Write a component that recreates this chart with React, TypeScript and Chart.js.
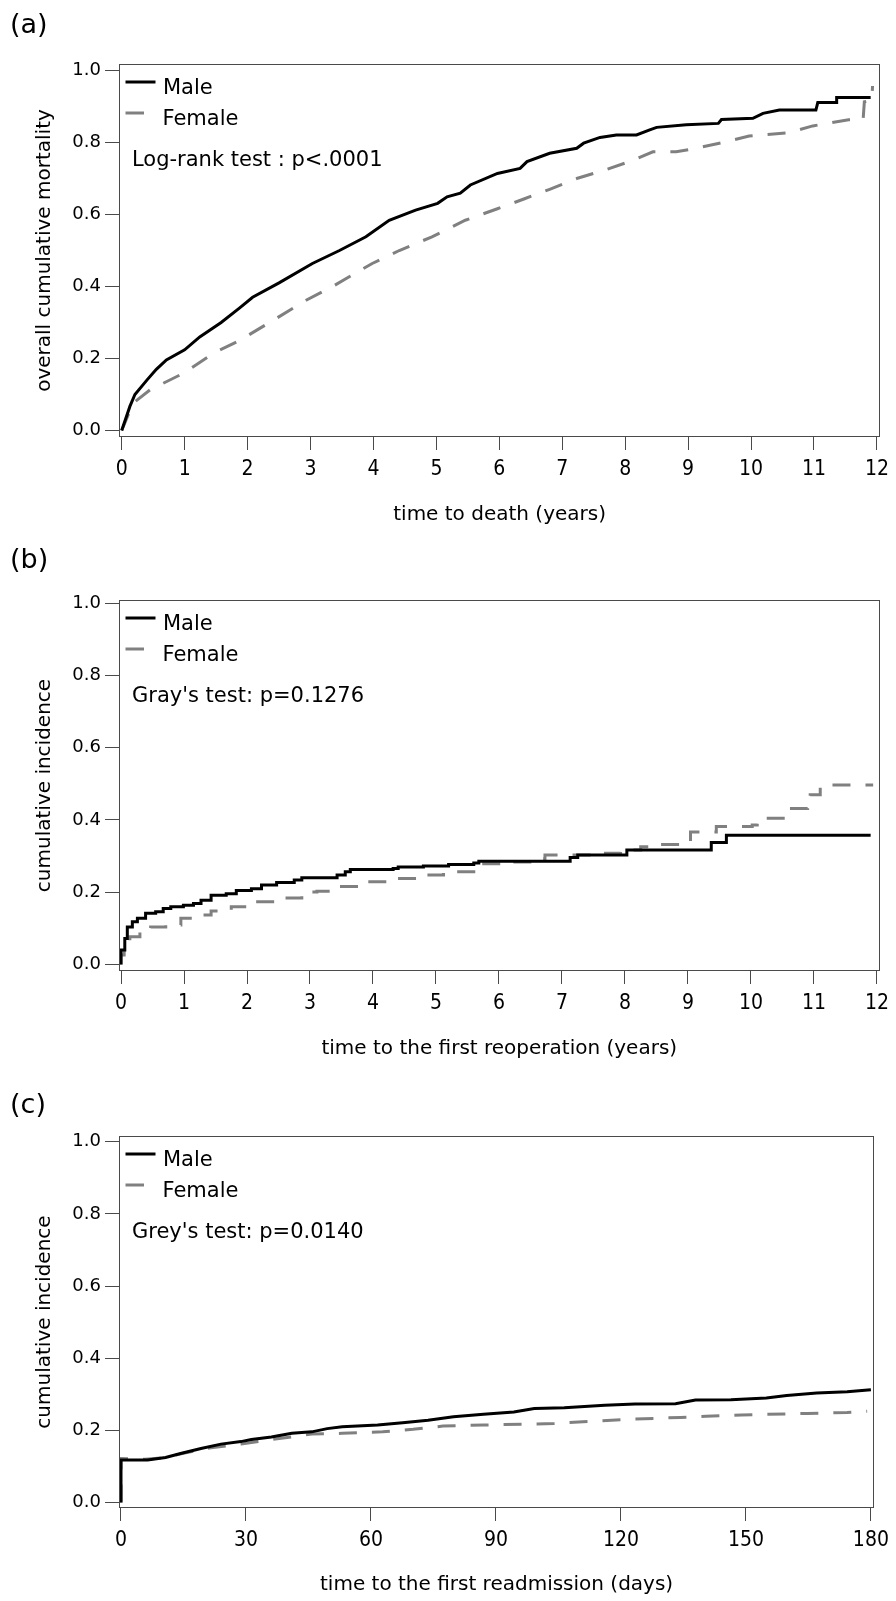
import React, { useEffect, useRef } from 'react';
import { Chart, registerables } from 'chart.js';

Chart.register(...registerables);

// ---------- shared ----------
const seriesLabels = ['Male', 'Female'];
const yTickValues = [0, 0.2, 0.4, 0.6, 0.8, 1.0];

// ---------- panel (a): overall cumulative mortality ----------
const aPanelLabel = '(a)';
const aXTitle = 'time to death (years)';
const aYTitle = 'overall cumulative mortality';
const aNote = 'Log-rank test : p<.0001';
const aXTicks = [0, 1, 2, 3, 4, 5, 6, 7, 8, 9, 10, 11, 12];
const aMaleTime = [0, 0.13, 0.21, 0.4, 0.55, 0.71, 1.0, 1.24, 1.58, 1.87, 2.08, 2.5, 3.03, 3.46, 3.88, 4.25, 4.67, 5.02, 5.17, 5.38, 5.54, 5.97, 6.33, 6.44, 6.8, 7.23, 7.34, 7.6, 7.86, 8.18, 8.39, 8.5, 8.97, 9.48, 9.53, 10.03, 10.19, 10.45, 11.03, 11.06, 11.35, 11.36, 11.9];
const aMaleValue = [0, 0.067, 0.1, 0.14, 0.17, 0.196, 0.224, 0.26, 0.3, 0.34, 0.37, 0.41, 0.464, 0.5, 0.538, 0.584, 0.612, 0.631, 0.649, 0.659, 0.682, 0.714, 0.728, 0.747, 0.77, 0.784, 0.798, 0.814, 0.821, 0.821, 0.835, 0.842, 0.849, 0.853, 0.864, 0.867, 0.881, 0.89, 0.89, 0.911, 0.911, 0.925, 0.925];
const aFemaleTime = [0, 0.18, 0.45, 0.98, 1.45, 1.87, 2.35, 2.93, 3.35, 3.98, 4.41, 4.93, 5.46, 5.97, 6.39, 6.8, 7.23, 7.65, 8.07, 8.44, 8.81, 9.13, 9.55, 9.97, 10.6, 10.98, 11.55, 11.78, 11.8, 11.92, 11.93];
const aFemaleValue = [0, 0.076, 0.113, 0.159, 0.214, 0.25, 0.3, 0.362, 0.4, 0.464, 0.5, 0.538, 0.584, 0.616, 0.643, 0.67, 0.7, 0.722, 0.747, 0.774, 0.774, 0.784, 0.8, 0.818, 0.827, 0.846, 0.863, 0.863, 0.913, 0.918, 0.957];

// ---------- panel (b): cumulative incidence of reoperation ----------
const bPanelLabel = '(b)';
const bXTitle = 'time to the first reoperation (years)';
const bYTitle = 'cumulative incidence';
const bNote = "Gray's test: p=0.1276";
const bXTicks = [0, 1, 2, 3, 4, 5, 6, 7, 8, 9, 10, 11, 12];
const bMaleTime = [0, 0, 0.06, 0.1, 0.18, 0.26, 0.39, 0.55, 0.67, 0.79, 0.99, 1.15, 1.27, 1.43, 1.67, 1.83, 2.07, 2.23, 2.47, 2.75, 2.87, 3.43, 3.56, 3.64, 4.32, 4.4, 4.8, 5.2, 5.6, 5.68, 7.13, 7.25, 8.03, 9.37, 9.61, 11.9];
const bMaleValue = [0, 0.04, 0.072, 0.104, 0.118, 0.128, 0.142, 0.146, 0.155, 0.16, 0.164, 0.169, 0.178, 0.192, 0.196, 0.205, 0.21, 0.22, 0.227, 0.234, 0.24, 0.248, 0.257, 0.263, 0.266, 0.27, 0.273, 0.277, 0.281, 0.286, 0.296, 0.303, 0.317, 0.338, 0.358, 0.358];
const bFemaleTime = [0, 0, 0.05, 0.14, 0.3, 0.47, 0.71, 0.95, 1.19, 1.43, 1.75, 2.07, 2.47, 2.87, 3.11, 3.43, 3.92, 4.32, 4.8, 5.12, 5.6, 5.68, 6.08, 6.49, 6.73, 7.69, 7.93, 8.25, 8.57, 9.04, 9.45, 10.02, 10.1, 10.54, 10.58, 10.9, 10.94, 11.1, 11.94];
const bFemaleValue = [0, 0.026, 0.058, 0.077, 0.09, 0.104, 0.109, 0.128, 0.137, 0.148, 0.16, 0.174, 0.184, 0.201, 0.203, 0.216, 0.229, 0.238, 0.248, 0.257, 0.266, 0.279, 0.284, 0.293, 0.303, 0.308, 0.317, 0.326, 0.332, 0.367, 0.382, 0.386, 0.405, 0.414, 0.432, 0.443, 0.47, 0.497, 0.497];

// ---------- panel (c): cumulative incidence of readmission ----------
const cPanelLabel = '(c)';
const cXTitle = 'time to the first readmission (days)';
const cYTitle = 'cumulative incidence';
const cNote = "Grey's test: p=0.0140";
const cXTicks = [0, 30, 60, 90, 120, 150, 180];
const cMaleTime = [0, 0, 6.4, 10.7, 14.3, 19.2, 24.0, 28.8, 31.3, 36.1, 41.0, 45.8, 49.5, 53.1, 61.6, 67.6, 73.7, 79.8, 87.0, 94.3, 99.2, 106.4, 116.1, 123.4, 133.1, 137.9, 146.4, 154.9, 159.8, 167.0, 174.3, 180.0];
const cMaleValue = [0, 0.118, 0.118, 0.125, 0.136, 0.15, 0.162, 0.169, 0.175, 0.182, 0.192, 0.196, 0.205, 0.21, 0.215, 0.221, 0.228, 0.238, 0.245, 0.251, 0.261, 0.263, 0.27, 0.273, 0.274, 0.284, 0.285, 0.29, 0.297, 0.304, 0.307, 0.313];
const cFemaleTime = [0, 0, 5.8, 10.7, 15.5, 21.6, 28.8, 36.1, 41.0, 45.8, 53.1, 62.8, 70.1, 77.3, 87.0, 104.0, 113.7, 122.2, 134.3, 140.4, 148.9, 164.7, 174.3, 179.1];
const cFemaleValue = [0, 0.122, 0.12, 0.125, 0.138, 0.152, 0.162, 0.175, 0.182, 0.19, 0.192, 0.196, 0.203, 0.212, 0.215, 0.219, 0.226, 0.231, 0.236, 0.239, 0.243, 0.247, 0.25, 0.253];

// ---------- styles ----------
const FONT = '"DejaVu Sans", "Noto Sans", sans-serif';
const FONT_NARROW = '"DejaVu Sans Condensed", "Liberation Sans Narrow", "DejaVu Sans", sans-serif';
const MALE_COLOR = '#000000';
const FEMALE_COLOR = '#808080';
const AXIS_COLOR = '#4a4a4a';
const FEMALE_DASH = [18, 15];
const W = 896;

type PanelCfg = {
  label: string; xTitle: string; yTitle: string; note: string;
  xTicks: number[];
  maleT: number[]; maleV: number[]; femaleT: number[]; femaleV: number[];
  stepped: boolean;
  top: number; h: number; padTop: number; right: number; xAxisH: number; xTitlePad: number;
  xMin: number; xMax: number; yMin: number; yMax: number; labelBaseline: number;
};

const panels: PanelCfg[] = [
  {
    label: aPanelLabel, xTitle: aXTitle, yTitle: aYTitle, note: aNote, xTicks: aXTicks,
    maleT: aMaleTime, maleV: aMaleValue, femaleT: aFemaleTime, femaleV: aFemaleValue, stepped: false,
    top: 0, h: 540, padTop: 64, right: 885, xAxisH: 103, xTitlePad: 13,
    xMin: -0.043, xMax: 12.052, yMin: -0.018, yMax: 1.018, labelBaseline: 33,
  },
  {
    label: bPanelLabel, xTitle: bXTitle, yTitle: bYTitle, note: bNote, xTicks: bXTicks,
    maleT: bMaleTime, maleV: bMaleValue, femaleT: bFemaleTime, femaleV: bFemaleValue, stepped: true,
    top: 540, h: 535, padTop: 60, right: 883, xAxisH: 104, xTitlePad: 14,
    xMin: -0.032, xMax: 12.041, yMin: -0.018, yMax: 1.009, labelBaseline: 28,
  },
  {
    label: cPanelLabel, xTitle: cXTitle, yTitle: cYTitle, note: cNote, xTicks: cXTicks,
    maleT: cMaleTime, maleV: cMaleValue, femaleT: cFemaleTime, femaleV: cFemaleValue, stepped: false,
    top: 1075, h: 526, padTop: 61, right: 878, xAxisH: 93, xTitlePad: 4,
    xMin: -0.48, xMax: 180.79, yMin: -0.015, yMax: 1.016, labelBaseline: 38,
  },
];

const toPoints = (t: number[], v: number[]) => t.map((x, i) => ({ x, y: v[i] }));

const decorPlugin = {
  id: 'decor',
  afterDraw(chart: any) {
    const o = chart.options.plugins.decor;
    const { ctx, chartArea: a } = chart;
    ctx.save();
    // frame
    const l = Math.round(a.left) + 0.5;
    const t = Math.round(a.top) + 0.5;
    const r = Math.round(a.right) - 0.5;
    const b = Math.round(a.bottom) - 0.5;
    ctx.strokeStyle = AXIS_COLOR;
    ctx.lineWidth = 1;
    ctx.setLineDash([]);
    ctx.strokeRect(l, t, r - l, b - t);
    // legend
    ctx.lineWidth = 3;
    ctx.strokeStyle = MALE_COLOR;
    ctx.beginPath();
    ctx.moveTo(a.left + 6.5, a.top + 18);
    ctx.lineTo(a.left + 36.5, a.top + 18);
    ctx.stroke();
    ctx.strokeStyle = FEMALE_COLOR;
    ctx.beginPath();
    ctx.moveTo(a.left + 6.5, a.top + 49);
    ctx.lineTo(a.left + 25, a.top + 49);
    ctx.stroke();
    ctx.fillStyle = '#000';
    ctx.textBaseline = 'alphabetic';
    ctx.textAlign = 'left';
    ctx.font = `21px ${FONT}`;
    ctx.fillText(o.male, a.left + 44, a.top + 29.5);
    ctx.fillText(o.female, a.left + 43.5, a.top + 60.8);
    ctx.fillText(o.note, a.left + 13, a.top + 101.8);
    // panel label
    ctx.font = `27px ${FONT}`;
    ctx.fillText(o.label, 10, o.labelBaseline);
    ctx.restore();
  },
};

function Panel({ cfg }: { cfg: PanelCfg }) {
  const ref = useRef<HTMLCanvasElement>(null);
  useEffect(() => {
    const canvas = ref.current;
    if (!canvas) return;
    const chart = new Chart(canvas, {
      type: 'line',
      data: {
        datasets: [
          {
            label: seriesLabels[0],
            data: toPoints(cfg.maleT, cfg.maleV),
            borderColor: MALE_COLOR,
            borderWidth: 3,
            pointRadius: 0,
            stepped: cfg.stepped,
            tension: 0,
            fill: false,
          },
          {
            label: seriesLabels[1],
            data: toPoints(cfg.femaleT, cfg.femaleV),
            borderColor: FEMALE_COLOR,
            borderWidth: 3,
            borderDash: FEMALE_DASH,
            pointRadius: 0,
            stepped: cfg.stepped,
            tension: 0,
            fill: false,
          },
        ],
      },
      options: {
        animation: false,
        responsive: false,
        devicePixelRatio: 1,
        layout: { padding: { top: cfg.padTop, right: W - cfg.right, left: 0, bottom: 0 } },
        plugins: {
          legend: { display: false },
          tooltip: { enabled: false },
          decor: {
            male: seriesLabels[0], female: seriesLabels[1], note: cfg.note,
            label: cfg.label, labelBaseline: cfg.labelBaseline,
          },
        } as any,
        scales: {
          x: {
            type: 'linear',
            min: cfg.xMin,
            max: cfg.xMax,
            afterBuildTicks: (s: any) => { s.ticks = cfg.xTicks.map((v) => ({ value: v })); },
            afterFit: (s: any) => { s.height = cfg.xAxisH; },
            grid: { drawOnChartArea: false, color: AXIS_COLOR, tickLength: 13, lineWidth: 1 },
            border: { display: false },
            ticks: {
              color: '#000', font: { family: FONT_NARROW, size: 21 }, padding: 7,
              maxRotation: 0, autoSkip: false, callback: (v: any) => String(v),
            },
            title: {
              display: true, text: cfg.xTitle, color: '#000',
              font: { family: FONT, size: 20 }, padding: { top: 0, bottom: cfg.xTitlePad },
            },
          },
          y: {
            type: 'linear',
            min: cfg.yMin,
            max: cfg.yMax,
            afterBuildTicks: (s: any) => { s.ticks = yTickValues.map((v) => ({ value: v })); },
            afterFit: (s: any) => { s.width = 119; },
            grid: { drawOnChartArea: false, color: AXIS_COLOR, tickLength: 14, lineWidth: 1 },
            border: { display: false },
            ticks: {
              color: '#000', font: { family: FONT, size: 18 }, padding: 4,
              autoSkip: false, callback: (v: any) => Number(v).toFixed(1),
            },
            title: {
              display: true, text: cfg.yTitle, color: '#000',
              font: { family: FONT, size: 20 }, padding: { top: 33, bottom: 0 },
            },
          },
        },
      } as any,
      plugins: [decorPlugin],
    });
    return () => chart.destroy();
  }, [cfg]);
  return (
    <canvas
      ref={ref}
      width={W}
      height={cfg.h}
      style={{ position: 'absolute', left: 0, top: cfg.top, width: W, height: cfg.h, display: 'block' }}
    />
  );
}

export default function App() {
  return (
    <div style={{ position: 'absolute', left: 0, top: 0, width: W, height: 1601, background: '#fff', overflow: 'hidden' }}>
      {panels.map((p) => (
        <Panel key={p.label} cfg={p} />
      ))}
    </div>
  );
}
